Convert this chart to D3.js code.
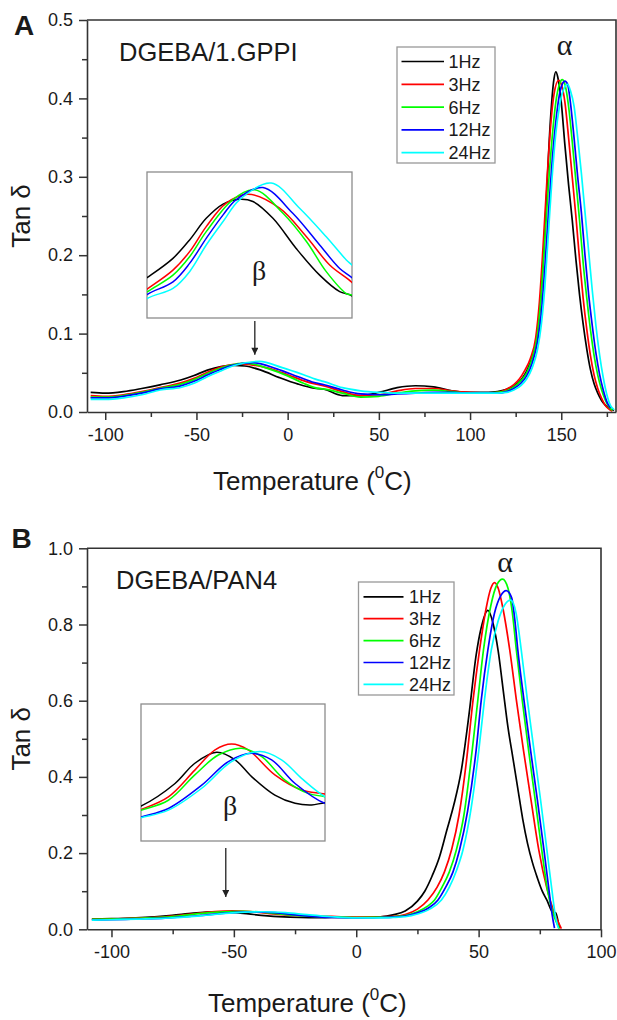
<!DOCTYPE html>
<html>
<head>
<meta charset="utf-8">
<script src="https://cdn.jsdelivr.net/npm/d3@7"></script>
<style>
  body { margin: 0; background: #fff; }
  svg { display: block; }
  text { font-family: 'Liberation Sans', Arial, sans-serif; fill: #1a1a1a; }
  .greek { font-family: 'Liberation Serif', 'Times New Roman', serif; }
</style>
</head>
<body>
<svg id="chart" width="617" height="1020"></svg>
<script>
// ---- Frequencies and their line colours ----
const frequencies = ["1Hz", "3Hz", "6Hz", "12Hz", "24Hz"];
const seriesColors = ["#000000", "#ff0000", "#00ff00", "#0000ff", "#00ffff"];

// ---- Panel A: DGEBA/1.GPPI, tan delta vs temperature (degC) ----
const xTicksA = [-100, -50, 0, 50, 100, 150];
const xMinorA = [-75, -25, 25, 75, 125, 175];
const yTicksA = [0, 0.1, 0.2, 0.3, 0.4, 0.5];
const yMinorA = [0.05, 0.15, 0.25, 0.35, 0.45];

const a1Hz = [[-108,0.025],[-100,0.024],[-90,0.026],[-80,0.030],
  [-70,0.0347],[-58.6,0.0408],[-51.3,0.0466],[-44,0.0534],[-36.6,0.0579],[-29.3,0.0594],[-23.5,0.0587],[-14.7,0.0534],[-4.5,0.0439],[5.8,0.0355],[14.6,0.0303],[20,0.029],
  [30,0.021],[40,0.021],[50,0.025],[60,0.031],[70,0.0335],[80,0.032],[90,0.027],[100,0.025],[110,0.025],[115,0.026],[120,0.029],[124,0.033],[128,0.041],[131,0.052],[134,0.07],[137,0.10],[140,0.19],[142,0.28],[144,0.37],[146,0.425],[147,0.434],[148,0.428],[150,0.395],[152,0.34],[154,0.29],[156,0.245],[158,0.195],[160,0.15],[162,0.112],[164,0.08],[166,0.054],[168,0.036],[170,0.024],[172,0.015],[174,0.009],[176,0.005],[179,0.002]];
const a3Hz = [[-108,0.021],[-100,0.020],[-90,0.022],[-80,0.026],
  [-70,0.0311],[-58.6,0.0371],[-51.3,0.0429],[-44,0.0508],[-35.2,0.0582],[-25.6,0.0610],[-11.8,0.0566],[0,0.0476],[10.2,0.0387],[20,0.0332],
  [30,0.026],[40,0.021],[50,0.022],[60,0.027],[70,0.030],[80,0.030],[90,0.027],[100,0.025],[110,0.024],[115,0.025],[120,0.029],[124,0.035],[127,0.042],[130,0.053],[133,0.068],[136,0.095],[138,0.14],[140,0.21],[142,0.29],[144,0.36],[146,0.405],[148.5,0.423],[150,0.418],[152,0.395],[154,0.35],[156,0.30],[158,0.25],[160,0.195],[162,0.145],[164,0.105],[166,0.072],[168,0.047],[170,0.03],[172,0.018],[174,0.009],[176,0.004],[178,0.001]];
const a6Hz = [[-108,0.019],[-100,0.019],[-90,0.021],[-80,0.025],
  [-70,0.0302],[-58.6,0.0355],[-51.3,0.0413],[-44,0.0492],[-32.3,0.0593],[-22.7,0.0624],[-10.3,0.055],[0,0.0461],[8.7,0.0366],[17.5,0.0297],[20,0.0292],
  [30,0.024],[40,0.019],[50,0.020],[60,0.024],[70,0.027],[80,0.028],[90,0.026],[100,0.024],[110,0.024],[115,0.025],[120,0.027],[124,0.032],[128,0.040],[131,0.05],[134,0.068],[137,0.10],[139,0.15],[141,0.22],[143,0.29],[145,0.35],[147,0.395],[149,0.418],[150.5,0.424],[152,0.418],[154,0.39],[156,0.345],[158,0.295],[160,0.245],[162,0.19],[164,0.145],[166,0.105],[168,0.072],[170,0.047],[172,0.029],[174,0.016],[176,0.007],[178,0.002]];
const a12Hz = [[-108,0.018],[-100,0.018],[-90,0.020],[-80,0.024],
  [-70,0.0294],[-58.6,0.0334],[-51.3,0.0392],[-44,0.0471],[-36.6,0.0545],[-30.8,0.0593],[-19.1,0.0631],[-6,0.055],[5.8,0.045],[14.6,0.0376],[20,0.0347],
  [30,0.028],[40,0.023],[50,0.022],[60,0.023],[70,0.024],[80,0.025],[90,0.025],[100,0.024],[110,0.024],[115,0.024],[120,0.026],[124,0.030],[128,0.037],[131,0.046],[134,0.062],[137,0.09],[139,0.125],[141,0.185],[143,0.255],[145,0.32],[147,0.37],[149,0.405],[150.5,0.418],[152,0.422],[153.5,0.418],[155,0.395],[157,0.35],[159,0.30],[161,0.255],[163,0.20],[165,0.15],[167,0.11],[169,0.075],[171,0.048],[173,0.028],[175,0.013],[177,0.005]];
const a24Hz = [[-108,0.016],[-100,0.016],[-90,0.018],[-80,0.022],
  [-70,0.0281],[-58.6,0.0313],[-51.3,0.0366],[-44,0.045],[-36.6,0.0524],[-29.3,0.0593],[-15.5,0.0645],[-3,0.0566],[8.7,0.0476],[17.5,0.0403],[20,0.0387],
  [30,0.031],[40,0.027],[50,0.025],[60,0.024],[70,0.024],[80,0.024],[90,0.024],[100,0.024],[110,0.024],[115,0.024],[120,0.025],[124,0.028],[128,0.034],[131,0.042],[134,0.056],[137,0.08],[139,0.11],[141,0.16],[143,0.23],[145,0.30],[147,0.355],[149,0.39],[151,0.41],[153.5,0.418],[155,0.41],[157,0.39],[159,0.35],[161,0.305],[163,0.255],[165,0.205],[167,0.155],[169,0.11],[171,0.073],[173,0.044],[175,0.022],[177,0.008],[179,0.003]];

// zoomed window on the beta relaxation (panel A)
const insetXA = [-70, 20];
const insetYA = [0.022, 0.068];

// ---- Panel B: DGEBA/PAN4 ----
const xTicksB = [-100, -50, 0, 50, 100];
const xMinorB = [-75, -25, 25, 75];
const yTicksB = [0, 0.2, 0.4, 0.6, 0.8, 1.0];
const yMinorB = [0.1, 0.3, 0.5, 0.7, 0.9];

const b1Hz = [[-108,0.027],[-100,0.028],
  [-90,0.0302],[-75.2,0.0368],[-66.6,0.0427],[-57.1,0.0459],[-49.1,0.0437],[-41.9,0.0388],[-31.8,0.0334],[-23,0.031],[-15.8,0.0305],[-10,0.0312],
  [0,0.031],[10,0.033],[15,0.038],[20,0.048],[25,0.074],[28,0.10],[31,0.14],[34,0.19],[37,0.26],[40,0.33],[43,0.42],[46,0.56],[49,0.72],[51,0.79],[53.8,0.837],[56,0.80],[58,0.73],[60,0.63],[62,0.53],[64,0.45],[66,0.37],[68,0.29],[70,0.225],[72,0.175],[74,0.135],[76,0.10],[78,0.075],[80,0.047],[81.5,0.043],[82.5,0.02],[83,0.003]];
const b3Hz = [[-108,0.026],[-100,0.027],
  [-90,0.0292],[-78.1,0.0329],[-66.6,0.0407],[-57.8,0.0466],[-50.6,0.0483],[-43.4,0.0466],[-31.8,0.0393],[-20.2,0.0349],[-10,0.0337],
  [0,0.032],[10,0.033],[15,0.034],[20,0.039],[25,0.053],[29.3,0.077],[33,0.11],[36,0.15],[39,0.21],[42,0.30],[45,0.44],[47.7,0.60],[50.4,0.734],[53,0.84],[55,0.895],[56.5,0.91],[58,0.895],[60,0.84],[62.7,0.734],[65.4,0.603],[68.3,0.471],[71.4,0.34],[74.6,0.208],[77.8,0.11],[80.8,0.045],[83.8,0.002]];
const b6Hz = [[-108,0.026],[-100,0.027],
  [-90,0.029],[-78.1,0.0319],[-66.6,0.0393],[-56.4,0.0451],[-46.2,0.0471],[-37.5,0.0446],[-27.4,0.0378],[-17.3,0.0339],[-10,0.0329],
  [0,0.031],[10,0.032],[15,0.033],[20,0.036],[25,0.046],[29,0.06],[32,0.077],[35,0.11],[38,0.15],[40.9,0.208],[44,0.30],[47.4,0.471],[49.7,0.603],[52,0.734],[55,0.85],[57.5,0.905],[59.8,0.919],[62,0.895],[63.8,0.83],[65.4,0.734],[67.8,0.603],[70.4,0.471],[73.1,0.34],[75.8,0.208],[78.2,0.10],[80.5,0.04],[83,0.002]];
const b12Hz = [[-108,0.024],[-100,0.025],
  [-90,0.027],[-78.1,0.0295],[-63.6,0.0363],[-52,0.0432],[-41.9,0.0456],[-33.2,0.0437],[-23,0.0368],[-10,0.031],
  [0,0.030],[10,0.031],[15,0.032],[20,0.035],[25,0.043],[30,0.058],[33.4,0.077],[36.5,0.11],[39.5,0.15],[42.2,0.208],[45.5,0.31],[49,0.471],[51.1,0.603],[53.8,0.734],[56.5,0.83],[59,0.875],[61.3,0.889],[63.5,0.87],[65,0.80],[66,0.734],[68.5,0.603],[71.2,0.471],[74,0.34],[76.7,0.208],[78.8,0.10],[80,0.04],[81,0.003]];
const b24Hz = [[-108,0.024],[-100,0.025],
  [-90,0.0268],[-78.1,0.029],[-63.6,0.0354],[-50.6,0.0432],[-38.2,0.0461],[-28.9,0.0437],[-20.2,0.0383],[-10,0.0329],
  [0,0.030],[10,0.030],[15,0.031],[20,0.033],[25,0.040],[30,0.053],[34.8,0.077],[38,0.11],[41,0.155],[43.6,0.208],[47,0.32],[50.1,0.471],[52.4,0.603],[55.2,0.734],[58,0.81],[60.5,0.85],[63.1,0.864],[65.3,0.83],[67.4,0.734],[69.9,0.603],[72.6,0.471],[75.3,0.34],[77.9,0.208],[80,0.10],[81.5,0.03],[82.6,0.003]];

// zoomed window on the beta relaxation (panel B)
const insetXB = [-90, -10];
const insetYB = [0.02, 0.06];

// ---- Layout of the two panels ----
const panels = [
  {
    id: "A", title: "DGEBA/1.GPPI",
    left: 87, right: 616, top: 20, bottom: 412,
    xDomain: [-110, 180], yDomain: [0, 0.5],
    xTicks: xTicksA, xMinor: xMinorA, yTicks: yTicksA, yMinor: yMinorA,
    series: [a1Hz, a3Hz, a6Hz, a12Hz, a24Hz],
    inset: { x0: 147, y0: 172, x1: 352, y1: 318, xDomain: insetXA, yDomain: insetYA, betaX: 259, betaY: 280 },
    arrow: { t: -18, from: 0.116, to: 0.073 },
    alpha: { t: 151.8, v: 0.455 },
    legend: { x: 397, y: 47, w: 98, h: 116, row0: 14.5, step: 22.8, lineX0: 4.5, lineX1: 47, textX: 51.5 },
    letter: { x: 14, y: 35 }, titlePos: { x: 119, y: 61 },
    xTitle: { x: 213, y: 490 }, yTitleX: 29.5
  },
  {
    id: "B", title: "DGEBA/PAN4",
    left: 87, right: 601, top: 548.3, bottom: 929.3,
    xDomain: [-110, 100], yDomain: [0, 1.0],
    xTicks: xTicksB, xMinor: xMinorB, yTicks: yTicksB, yMinor: yMinorB,
    series: [b1Hz, b3Hz, b6Hz, b12Hz, b24Hz],
    inset: { x0: 141, y0: 704, x1: 325, y1: 841, xDomain: insetXB, yDomain: insetYB, betaX: 230, betaY: 815 },
    arrow: { t: -53.3, from: 0.2135, to: 0.085 },
    alpha: { t: 60.8, v: 0.938 },
    legend: { x: 358.5, y: 582, w: 95.5, h: 113, row0: 14.8, step: 21.9, lineX0: 5, lineX1: 45, textX: 50.5 },
    letter: { x: 11.5, y: 548 }, titlePos: { x: 116, y: 589 },
    xTitle: { x: 208, y: 1012 }, yTitleX: 29.5
  }
];

const svg = d3.select("#chart");
const defs = svg.append("defs");
defs.append("marker")
  .attr("id", "arrowhead")
  .attr("viewBox", "0 0 10 10")
  .attr("refX", 10).attr("refY", 5)
  .attr("markerUnits", "userSpaceOnUse")
  .attr("markerWidth", 9).attr("markerHeight", 7)
  .attr("orient", "auto")
  .append("path").attr("d", "M0,0 L10,5 L0,10 Z").attr("fill", "#222");

const axisColor = "#333";

function styleAxis(sel, fontSize) {
  sel.attr("font-family", null).attr("font-size", null);
  sel.selectAll("line").attr("stroke", axisColor).attr("stroke-width", 1.5);
  sel.selectAll("path.domain").attr("stroke", axisColor).attr("stroke-width", 1.6);
  sel.selectAll("text").attr("font-size", fontSize).attr("fill", "#222");
}

panels.forEach(p => {
  const g = svg.append("g").attr("class", "panel-" + p.id);
  const x = d3.scaleLinear().domain(p.xDomain).range([p.left, p.right]);
  const y = d3.scaleLinear().domain(p.yDomain).range([p.bottom, p.top]);

  const clipId = "clip-" + p.id;
  defs.append("clipPath").attr("id", clipId)
    .append("rect").attr("x", p.left).attr("y", p.top)
    .attr("width", p.right - p.left).attr("height", p.bottom - p.top);

  // inset frame (white background under the zoomed curves)
  const ins = p.inset;
  g.append("rect").attr("x", ins.x0).attr("y", ins.y0)
    .attr("width", ins.x1 - ins.x0).attr("height", ins.y1 - ins.y0)
    .attr("fill", "#fff").attr("stroke", "#8c8c8c").attr("stroke-width", 1.3);

  // main curves
  const line = d3.line().x(d => x(d[0])).y(d => y(d[1])).curve(d3.curveMonotoneX);
  const curves = g.append("g").attr("clip-path", `url(#${clipId})`);
  p.series.forEach((s, i) => {
    curves.append("path").datum(s)
      .attr("d", line)
      .attr("fill", "none")
      .attr("stroke", seriesColors[i])
      .attr("stroke-width", 1.7)
      .attr("stroke-linejoin", "round");
  });

  // inset curves: same data through zoomed scales
  const ix = d3.scaleLinear().domain(ins.xDomain).range([ins.x0, ins.x1]);
  const iy = d3.scaleLinear().domain(ins.yDomain).range([ins.y1, ins.y0]);
  const insetClip = "clip-inset-" + p.id;
  defs.append("clipPath").attr("id", insetClip)
    .append("rect").attr("x", ins.x0).attr("y", ins.y0)
    .attr("width", ins.x1 - ins.x0).attr("height", ins.y1 - ins.y0);
  const iline = d3.line().x(d => ix(d[0])).y(d => iy(d[1])).curve(d3.curveCatmullRom.alpha(0.5));
  const icurves = g.append("g").attr("clip-path", `url(#${insetClip})`);
  p.series.forEach((s, i) => {
    icurves.append("path").datum(s)
      .attr("d", iline)
      .attr("fill", "none")
      .attr("stroke", seriesColors[i])
      .attr("stroke-width", 1.5);
  });
  g.append("text").attr("class", "greek")
    .attr("x", ins.betaX).attr("y", ins.betaY)
    .attr("text-anchor", "middle").attr("font-size", 28)
    .text("\u03b2");

  // arrow pointing from the inset to the beta peak
  g.append("line")
    .attr("x1", x(p.arrow.t)).attr("x2", x(p.arrow.t))
    .attr("y1", y(p.arrow.from)).attr("y2", y(p.arrow.to))
    .attr("stroke", "#222").attr("stroke-width", 1.3)
    .attr("marker-end", "url(#arrowhead)");

  // alpha label above the main relaxation peak
  g.append("text").attr("class", "greek")
    .attr("x", x(p.alpha.t)).attr("y", y(p.alpha.v))
    .attr("text-anchor", "middle").attr("font-size", 30)
    .text("\u03b1");

  // axes
  const xAxis = d3.axisBottom(x).tickValues(p.xTicks).tickSize(8).tickSizeOuter(0)
    .tickPadding(8).tickFormat(d => String(d));
  const xMinor = d3.axisBottom(x).tickValues(p.xMinor).tickSize(5).tickSizeOuter(0).tickFormat("");
  const yAxis = d3.axisLeft(y).tickValues(p.yTicks).tickSize(8).tickSizeOuter(0)
    .tickPadding(6).tickFormat(d3.format(".1f"));
  const yMinor = d3.axisLeft(y).tickValues(p.yMinor).tickSize(5).tickSizeOuter(0).tickFormat("");

  g.append("g").attr("transform", `translate(0,${p.bottom})`).call(xMinor)
    .call(s => s.select(".domain").remove()).call(s => styleAxis(s, 18));
  g.append("g").attr("transform", `translate(${p.left},0)`).call(yMinor)
    .call(s => s.select(".domain").remove()).call(s => styleAxis(s, 18));
  g.append("g").attr("transform", `translate(0,${p.bottom})`).call(xAxis)
    .call(s => styleAxis(s, 18));
  g.append("g").attr("transform", `translate(${p.left},0)`).call(yAxis)
    .call(s => styleAxis(s, 18));

  // top and right frame
  g.append("path")
    .attr("d", `M${p.left},${p.top}H${p.right}V${p.bottom}`)
    .attr("fill", "none").attr("stroke", axisColor).attr("stroke-width", 1.6);

  // legend
  const L = p.legend;
  const lg = g.append("g").attr("transform", `translate(${L.x},${L.y})`);
  lg.append("rect").attr("width", L.w).attr("height", L.h)
    .attr("fill", "#fff").attr("stroke", "#999").attr("stroke-width", 1.3);
  frequencies.forEach((f, i) => {
    const yy = L.row0 + i * L.step;
    lg.append("line").attr("x1", L.lineX0).attr("x2", L.lineX1)
      .attr("y1", yy).attr("y2", yy)
      .attr("stroke", seriesColors[i]).attr("stroke-width", 1.7);
    lg.append("text").attr("x", L.textX).attr("y", yy).attr("dy", "0.36em")
      .attr("font-size", 18).text(f);
  });

  // panel letter, sample name, axis titles
  g.append("text").attr("x", p.letter.x).attr("y", p.letter.y)
    .attr("font-size", 28).attr("font-weight", "bold").attr("fill", "#000").text(p.id);
  g.append("text").attr("x", p.titlePos.x).attr("y", p.titlePos.y)
    .attr("font-size", 25.5).text(p.title);

  const xt = g.append("text").attr("x", p.xTitle.x).attr("y", p.xTitle.y).attr("font-size", 26);
  xt.append("tspan").text("Temperature (");
  xt.append("tspan").attr("font-size", 17).attr("dy", -12).text("0");
  xt.append("tspan").attr("dy", 12).text("C)");

  g.append("text")
    .attr("transform", `translate(${p.yTitleX},${(p.top + p.bottom) / 2}) rotate(-90)`)
    .attr("text-anchor", "middle").attr("font-size", 26)
    .text("Tan \u03b4");
});
</script>
</body>
</html>
